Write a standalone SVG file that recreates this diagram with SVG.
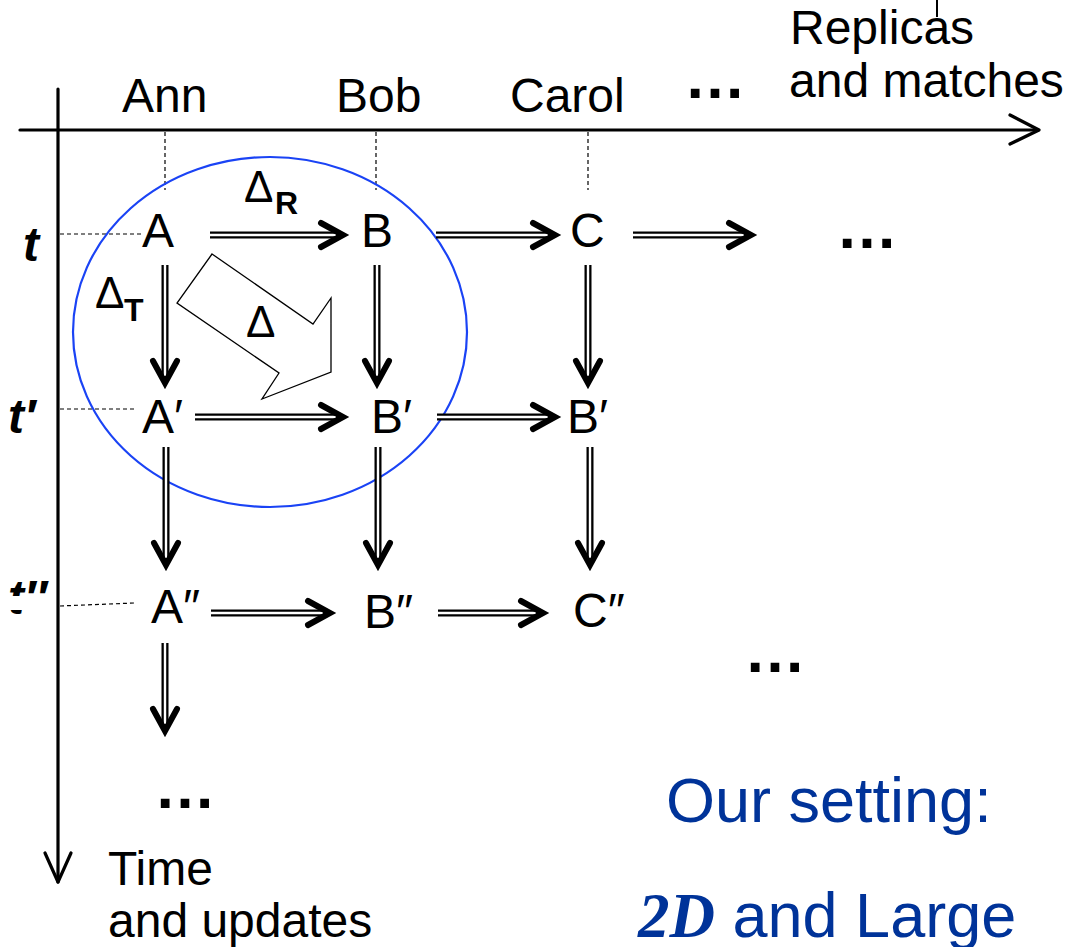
<svg xmlns="http://www.w3.org/2000/svg" width="1076" height="947" viewBox="0 0 1076 947">
<defs>
<style>
.t{font-family:"Liberation Sans",Arial,sans-serif;fill:#000}
.n{font-size:48px}
.ti{font-family:"Liberation Sans",Arial,sans-serif;font-style:italic;font-weight:bold;font-size:48px}
.dl{font-size:44px}
.sb{font-size:32px;font-weight:bold}
.el{font-family:"Liberation Sans",Arial,sans-serif;font-weight:bold;font-size:62px}
.blue{font-family:"Liberation Sans",Arial,sans-serif;fill:#003399;font-size:63px}
.ax{stroke:#000;stroke-width:3.2;fill:none;stroke-linecap:round;stroke-linejoin:round}
.dash{stroke:#000;stroke-width:1.2;stroke-dasharray:4 3;fill:none}
.so{stroke:#000;stroke-width:7;fill:none}
.si{stroke:#fff;stroke-width:2.4;fill:none}
.hd{stroke:#000;stroke-width:6;fill:none;stroke-linecap:round;stroke-linejoin:miter}
</style>
<clipPath id="clipT2"><rect x="0" y="570" width="60" height="26"/><rect x="0" y="610" width="60" height="6"/></clipPath>
</defs>
<rect width="1076" height="947" fill="#fff"/>

<g id="axes">
<line class="ax" x1="20" y1="130" x2="1038" y2="130"/>
<polyline class="ax" points="1010,115 1039,130 1010,144"/>
<line class="ax" x1="58" y1="89" x2="58" y2="882"/>
<polyline class="ax" points="45,853 58,882 71,853"/>
<line stroke="#000" stroke-width="2" x1="937" y1="0" x2="937" y2="17"/>
</g>

<g id="guides">
<line class="dash" x1="165" y1="132" x2="165" y2="190"/>
<line class="dash" x1="376" y1="132" x2="376" y2="190"/>
<line class="dash" x1="588" y1="132" x2="588" y2="190"/>
<line class="dash" x1="60" y1="234" x2="143" y2="234"/>
<line class="dash" x1="60" y1="409" x2="134" y2="409"/>
<line class="dash" x1="60" y1="606" x2="134" y2="603"/>
</g>

<g id="axis-labels">
<text class="t n" x="122" y="112">Ann</text>
<text class="t n" x="336" y="112">Bob</text>
<text class="t n" x="510" y="112">Carol</text>
<text class="el" x="684" y="98">…</text>
<text class="t n" x="790" y="44">Replicas</text>
<text class="t n" x="789" y="97">and matches</text>
<text class="ti" x="23" y="261">t</text>
<text class="ti" x="8" y="433">t′</text>
<text class="ti" x="8" y="614" clip-path="url(#clipT2)">t″</text>
<text class="t n" x="108" y="885">Time</text>
<text class="t n" x="108" y="937">and updates</text>
</g>

<g id="scope">
<ellipse cx="270" cy="332" rx="197" ry="175" fill="none" stroke="#1a43f5" stroke-width="2.2"/>
</g>

<g id="delta-arrow">
<polygon points="212,254 313,324 331,298 331,372 262,399 279,373 177,303" fill="#fff" stroke="#000" stroke-width="1.3"/>
<text class="t dl" x="246" y="337">Δ</text>
</g>

<g id="connectors">
<path class="so" d="M210,235H340 M436,235H552 M633,235H748 M195,417H340 M437,417H552 M211,613H327 M438,613H540"/>
<path class="si" d="M210,235H336 M436,235H548 M633,235H744 M195,417H336 M437,417H548 M211,613H323 M438,613H536"/>
<polyline class="hd" points="321,223 343,235 321,247"/>
<polyline class="hd" points="533,223 555,235 533,247"/>
<polyline class="hd" points="729,223 751,235 729,247"/>
<polyline class="hd" points="321,405 343,417 321,429"/>
<polyline class="hd" points="533,405 555,417 533,429"/>
<polyline class="hd" points="308,601 330,613 308,625"/>
<polyline class="hd" points="521,601 543,613 521,625"/>
<path class="so" d="M165,265V380 M377,265V380 M588,265V380 M166,447V562 M378,447V562 M590,447V562 M165,643V728"/>
<path class="si" d="M165,265V376 M377,265V376 M588,265V376 M166,447V558 M378,447V558 M590,447V558 M165,643V724"/>
<polyline class="hd" points="153,361 165,383 177,361"/>
<polyline class="hd" points="365,361 377,383 389,361"/>
<polyline class="hd" points="576,361 588,383 600,361"/>
<polyline class="hd" points="154,543 166,565 178,543"/>
<polyline class="hd" points="366,543 378,565 390,543"/>
<polyline class="hd" points="578,543 590,565 602,543"/>
<polyline class="hd" points="153,709 165,731 177,709"/>
</g>

<g id="label-dR"><text class="t dl" x="244" y="202">Δ</text><text class="t sb" x="275" y="214">R</text></g>
<g id="label-dT"><text class="t dl" x="95" y="308">Δ</text><text class="t sb" x="124" y="321">T</text></g>

<g id="node-A"><text class="t n" x="142" y="247">A</text></g>
<g id="node-B"><text class="t n" x="361" y="247">B</text></g>
<g id="node-C"><text class="t n" x="570" y="247">C</text></g>
<g id="node-more1"><text class="el" x="836" y="248">…</text></g>
<g id="node-A1"><text class="t n" x="142" y="433">A′</text></g>
<g id="node-B1"><text class="t n" x="371" y="433">B′</text></g>
<g id="node-B1c"><text class="t n" x="567" y="433">B′</text></g>
<g id="node-A2"><text class="t n" x="151" y="623">A″</text></g>
<g id="node-B2"><text class="t n" x="364" y="628">B″</text></g>
<g id="node-C2"><text class="t n" x="573" y="627">C″</text></g>
<g id="node-more2"><text class="el" x="744" y="672">…</text></g>
<g id="node-more3"><text class="el" x="154" y="808">…</text></g>

<g id="caption">
<text class="blue" x="666" y="822">Our setting:</text>
<text class="blue" x="638" y="937"><tspan font-family="'Liberation Serif','Times New Roman',serif" font-weight="bold" font-style="italic">2D</tspan> and Large</text>
</g>
</svg>
